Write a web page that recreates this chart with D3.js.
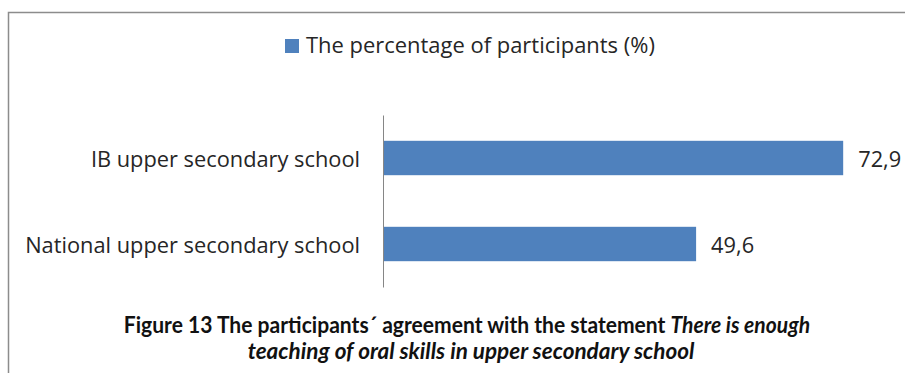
<!DOCTYPE html>
<html>
<head>
<meta charset="utf-8">
<script src="https://cdn.jsdelivr.net/npm/d3@7"></script>
<style>
  html, body { margin: 0; padding: 0; background: #fff; }
  svg { display: block; }
</style>
</head>
<body>
<svg id="chart" width="905" height="373"></svg>
<script>
// Survey answers: share of participants agreeing, by school type
const categories = ["IB upper secondary school", "National upper secondary school"];
const values = [72.9, 49.6];
const valueLabels = ["72,9", "49,6"];
const seriesName = "The percentage of participants (%)";
const captionLine1 = [
  { text: "Figure 13 The participants\u00B4 agreement with the statement ", italic: false },
  { text: "There is enough", italic: true }
];
const captionLine2 = "teaching of oral skills in upper secondary school";

const svg = d3.select("#chart");
const textColor = "#262626";
const barColor = "#4f81bd";
const labelFont = "'Open Sans', Lato, sans-serif";
const captionFont = "Lato, 'Open Sans', sans-serif";

// Scale a text element's font so it spans the given width
function fitWidth(sel, width) {
  const node = sel.node();
  const fs = parseFloat(sel.attr("font-size"));
  const w = node.getComputedTextLength();
  sel.attr("font-size", fs * width / w);
  return fs * width / w;
}

// Chart frame (top and left edges visible)
svg.append("path")
  .attr("d", "M8.5,373 V12.5 H905")
  .attr("fill", "none")
  .attr("stroke", "#8c8c8c")
  .attr("stroke-width", 1.5);

// Scales
const x = d3.scaleLinear().domain([0, 80]).range([383, 888]);
const yb = d3.scaleBand().domain(categories).range([115, 287])
  .paddingInner(0.6).paddingOuter(0.3);

// Bars
svg.append("g").selectAll("rect")
  .data(categories)
  .join("rect")
  .attr("x", x(0))
  .attr("y", d => yb(d))
  .attr("width", (d, i) => x(values[i]) - x(0))
  .attr("height", yb.bandwidth())
  .attr("fill", barColor);

// Category axis (line only, no ticks)
const axis = d3.axisLeft(yb).tickSize(0).tickPadding(23);
const gAxis = svg.append("g")
  .attr("transform", `translate(${x(0)},0)`)
  .call(axis);
gAxis.select(".domain").attr("stroke", "#868686").attr("stroke-width", 1);
const tickText = gAxis.selectAll("text")
  .attr("font-family", labelFont)
  .attr("font-size", 20)
  .attr("fill", textColor);
// size the axis labels by the longest one
const longest = tickText.filter(d => d === categories[1]);
const labelSize = fitWidth(longest, 335);
tickText.attr("font-size", labelSize).attr("dy", "0.4em");

// Value labels
svg.append("g").selectAll("text")
  .data(categories)
  .join("text")
  .attr("x", (d, i) => x(values[i]) + 15)
  .attr("y", d => yb(d) + yb.bandwidth() / 2)
  .attr("dy", "0.4em")
  .attr("font-family", labelFont)
  .attr("font-size", labelSize)
  .attr("fill", textColor)
  .text((d, i) => valueLabels[i]);

// Legend
const legend = svg.append("g");
legend.append("rect")
  .attr("x", 285).attr("y", 39).attr("width", 14).attr("height", 14)
  .attr("fill", barColor);
const legText = legend.append("text")
  .attr("x", 306).attr("y", 53)
  .attr("font-family", labelFont)
  .attr("font-size", 20)
  .attr("fill", textColor)
  .text(seriesName);
fitWidth(legText, 349);

// Caption
const cap2 = svg.append("text")
  .attr("x", 471).attr("y", 359)
  .attr("text-anchor", "middle")
  .attr("font-family", captionFont)
  .attr("font-weight", "bold")
  .attr("font-style", "italic")
  .attr("font-size", 20)
  .attr("fill", "#111")
  .text(captionLine2);
const capSize = fitWidth(cap2, 447);

// First caption line, condensed horizontally to its span
const cap1Group = svg.append("g");
const cap1 = cap1Group.append("text")
  .attr("x", 0).attr("y", 0)
  .attr("text-anchor", "middle")
  .attr("font-family", captionFont)
  .attr("font-weight", "bold")
  .attr("font-size", capSize)
  .attr("fill", "#111");
cap1.selectAll("tspan").data(captionLine1).join("tspan")
  .attr("font-style", d => d.italic ? "italic" : "normal")
  .text(d => d.text);
const cap1W = cap1.node().getComputedTextLength();
cap1Group.attr("transform", `translate(467,333) scale(${686 / cap1W},1)`);
</script>
</body>
</html>
